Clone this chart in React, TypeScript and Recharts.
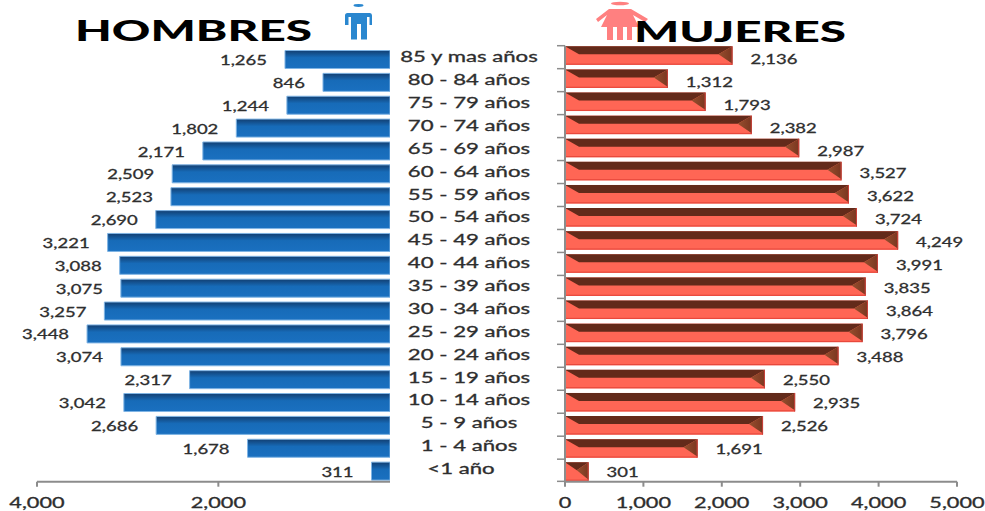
import React from 'react';
import { BarChart, Bar, XAxis, YAxis, LabelList } from 'recharts';

const W = 985;
const H = 511;

const categories = [
  '85 y mas años', '80 - 84 años', '75 - 79 años', '70 - 74 años', '65 - 69 años',
  '60 - 64 años', '55 - 59 años', '50 - 54 años', '45 - 49 años', '40 - 44 años',
  '35 - 39 años', '30 - 34 años', '25 - 29 años', '20 - 24 años', '15 - 19 años',
  '10 - 14 años', '5 - 9 años', '1 - 4 años', '<1 año',
];
const hombres = [1265, 846, 1244, 1802, 2171, 2509, 2523, 2690, 3221, 3088, 3075, 3257, 3448, 3074, 2317, 3042, 2686, 1678, 311];
const mujeres = [2136, 1312, 1793, 2382, 2987, 3527, 3622, 3724, 4249, 3991, 3835, 3864, 3796, 3488, 2550, 2935, 2526, 1691, 301];

const hombresTicks = [2000, 4000];
const mujeresTicks = [0, 1000, 2000, 3000, 4000, 5000];

const rows = categories.map((grupo, i) => ({ grupo, hombres: hombres[i], mujeres: mujeres[i] }));

const fmt = (v: number) => v.toLocaleString('en-US');

// Calibri-like text, stretched sideways
const Wide = ({ x, y, size = 14, sx = 1.32, anchor = 'middle', fill = '#2e2e2e', weight = 400, children }: any) => (
  <text
    transform={`translate(${x} ${y}) scale(${sx} 1)`}
    textAnchor={anchor}
    dominantBaseline="central"
    fontFamily="Lato"
    fontSize={size}
    fontWeight={weight}
    fill={fill}
    stroke={fill}
    strokeWidth={0.3}
  >
    {children}
  </text>
);

const AxisValue = ({ x, y, payload }: any) => (
  <Wide x={x} y={y + 14} size={15} sx={1.45}>{fmt(payload.value)}</Wide>
);

const GrupoTick = ({ x, y, payload }: any) => {
  // the "<1 año" row sits a little left of the others
  const dx = payload.value.startsWith('<') ? -8 : 0;
  return <Wide x={x + 71 + dx} y={y - 3} size={14.5} sx={1.53}>{payload.value}</Wide>;
};

// Marks sit on the band edges of the women's axis, not on the band centres
const EdgeTick = ({ x, y, index }: any) => {
  const top = y - 10.15 - index * 0.14;
  const right = x + 8;
  return (
    <g stroke="#8c8c8c" strokeWidth={1.5}>
      <line x1={right - 8} x2={right} y1={top} y2={top} />
      {index === categories.length - 1 && <line x1={right - 8} x2={right} y1={y + 9.5} y2={y + 9.5} />}
    </g>
  );
};

const HombresLabel = ({ x, y, width, height, value }: any) => (
  <Wide x={Math.min(x, x + width) - 18} y={y + height / 2} anchor="end">{fmt(value)}</Wide>
);

const MujeresLabel = ({ x, y, width, height, value, index }: any) => (
  <Wide x={x + width + 18} y={y + height / 2 + 2.6 - index * 0.16} anchor="start">{fmt(value)}</Wide>
);

// Pillow-bevel bar: dark top, shaded right face, salmon front
const BevelBar = ({ x, y, width, height }: any) => {
  const dx = Math.min(14, width / 2);
  const dy = 8;
  const r = x + width;
  const b = y + height;
  return (
    <g>
      <rect x={x} y={y} width={width} height={height} fill="#ff6655" />
      <polygon points={`${x},${y} ${r},${y} ${r - dx},${y + dy} ${x + dx},${y + dy}`} fill="#632a1a" />
      <polygon points={`${r},${y} ${r},${b - 1} ${r - dx},${y + dy}`} fill="url(#caraDerecha)" />
      <rect x={x} y={b - 1.2} width={width} height={1.2} fill="#e8483c" />
      <rect x={r - 1} y={y} width={1} height={height} fill="#c9403a" />
    </g>
  );
};

export default function App() {
  return (
    <div style={{ position: 'absolute', left: 0, top: 0, width: W, height: H, background: '#fff', overflow: 'hidden' }}>
      <div style={{ position: 'absolute', left: 0, top: 0 }}>
        <BarChart
          width={W}
          height={H}
          data={rows}
          layout="vertical"
          barCategoryGap={0}
          margin={{ top: 48.5, bottom: 0, left: 37, right: 445 }}
        >
          <defs>
            <linearGradient id="azul" x1="0" y1="0" x2="0" y2="1">
              <stop offset="0" stopColor="#123f72" />
              <stop offset="0.4" stopColor="#176bb8" />
              <stop offset="1" stopColor="#1a70c0" />
            </linearGradient>
          </defs>
          <XAxis
            type="number"
            reversed
            allowDataOverflow
            domain={[107, 4000]}
            ticks={hombresTicks}
            height={29.3}
            tick={<AxisValue />}
            tickSize={5}
            axisLine={{ stroke: '#8c8c8c', strokeWidth: 2 }}
            tickLine={{ stroke: '#8c8c8c', strokeWidth: 2 }}
          />
          <YAxis
            type="category"
            dataKey="grupo"
            orientation="right"
            width={150}
            interval={0}
            padding={{ top: 0, bottom: -1.3 }}
            axisLine={false}
            tickLine={false}
            tick={<GrupoTick />}
          />
          <Bar
            dataKey="hombres"
            barSize={18}
            fill="url(#azul)"
            stroke="#7fb4e4"
            strokeWidth={1}
            isAnimationActive={false}
          >
            <LabelList dataKey="hombres" content={<HombresLabel />} />
          </Bar>
        </BarChart>
      </div>

      <div style={{ position: 'absolute', left: 0, top: 0 }}>
        <BarChart
          width={W}
          height={H}
          data={rows}
          layout="vertical"
          barCategoryGap={0}
          margin={{ top: 45.7, bottom: 0, left: 465, right: 28 }}
        >
          <defs>
            <linearGradient id="caraDerecha" x1="0" y1="0" x2="1" y2="0">
              <stop offset="0" stopColor="#964f2e" />
              <stop offset="1" stopColor="#7a3620" />
            </linearGradient>
          </defs>
          <XAxis
            type="number"
            domain={[0, 5000]}
            ticks={mujeresTicks}
            height={29.3}
            tick={<AxisValue />}
            tickSize={5}
            axisLine={{ stroke: '#8c8c8c', strokeWidth: 2 }}
            tickLine={{ stroke: '#8c8c8c', strokeWidth: 2 }}
          />
          <YAxis
            type="category"
            dataKey="grupo"
            width={100}
            interval={0}
            padding={{ top: -1.4, bottom: -1.7 }}
            axisLine={{ stroke: '#8c8c8c', strokeWidth: 2 }}
            tickLine={false}
            tick={<EdgeTick />}
          />
          <Bar dataKey="mujeres" barSize={18.5} shape={<BevelBar />} isAnimationActive={false}>
            <LabelList dataKey="mujeres" content={<MujeresLabel />} />
          </Bar>
        </BarChart>
      </div>

      <svg width={W} height={H} style={{ position: 'absolute', left: 0, top: 0, pointerEvents: 'none' }}>
        {/* hombre */}
        <g fill="#2a87cf">
          <ellipse cx={358.5} cy={5.5} rx={5} ry={1.4} />
          <path d="M347.5 13 H370 Q372 13 372 15.5 V25 H369.5 V17 H367 V39.5 H361 V24 H357 V39.5 H351 V17 H348.5 V25 H345 V15.5 Q345 13 347.5 13 Z" />
        </g>
        {/* mujer */}
        <g fill="#ff8080">
          <ellipse cx={620} cy={3.5} rx={9} ry={1.8} />
          <path d="M609 9 H631 L648 19 L645 22 L633 15 L639 27 H632 V40 H627 V27 H623 V40 H617 V27 H613 V40 H607 V27 H601 L607 15 L598 22 L596 19 Z" />
        </g>
        <text
          x={75}
          y={41}
          textLength={237}
          lengthAdjust="spacingAndGlyphs"
          fontFamily="Lato"
          fontWeight={900}
          fontSize={29}
          fill="#000"
        >
          HOMBRES
        </text>
        <text
          x={634}
          y={41.5}
          textLength={212}
          lengthAdjust="spacingAndGlyphs"
          fontFamily="Lato"
          fontWeight={900}
          fontSize={29}
          fill="#000"
        >
          MUJERES
        </text>
      </svg>
    </div>
  );
}
